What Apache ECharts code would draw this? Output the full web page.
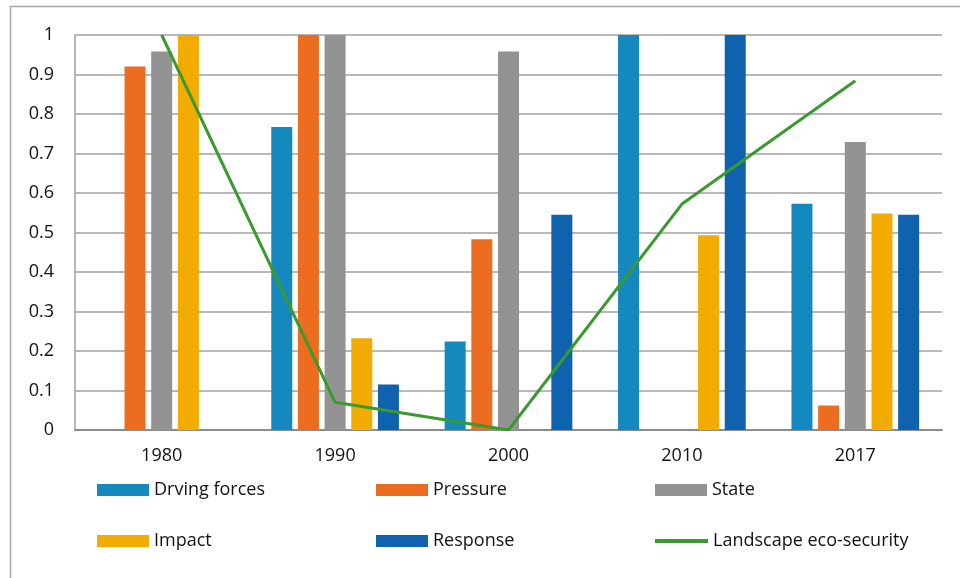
<!DOCTYPE html>
<html>
<head>
<meta charset="utf-8">
<script src="https://cdn.jsdelivr.net/npm/echarts@6/dist/echarts.min.js"></script>
<style>
  html, body { margin: 0; padding: 0; background: #ffffff; }
  #chart { width: 960px; height: 578px; }
</style>
</head>
<body>
<div id="chart"></div>
<script>
// DPSIR indicator scores by year, with the overall landscape eco-security index
const years = ['1980', '1990', '2000', '2010', '2017'];
const drivingForces = [0, 0.767, 0.224, 1, 0.573];
const pressure = [0.92, 1, 0.483, 0, 0.062];
const stateValues = [0.958, 1, 0.958, 0, 0.729];
const impact = [1, 0.232, 0, 0.493, 0.548];
const response = [0, 0.115, 0.545, 1, 0.545];
const ecoSecurity = [1, 0.07, 0, 0.572, 0.884];
const yTicks = [0, 0.1, 0.2, 0.3, 0.4, 0.5, 0.6, 0.7, 0.8, 0.9, 1];

const FONT = 'Open Sans';
const barSeries = [
  { name: 'Drving forces', data: drivingForces, color: '#1589be' },
  { name: 'Pressure', data: pressure, color: '#ec6d1f' },
  { name: 'State', data: stateValues, color: '#939393' },
  { name: 'Impact', data: impact, color: '#f2ab00' },
  { name: 'Response', data: response, color: '#0e62ae' }
];

const series = barSeries.map(s => ({
  name: s.name,
  type: 'bar',
  data: s.data,
  barWidth: 21,
  barGap: '27%',
  itemStyle: { color: s.color },
  emphasis: { disabled: true }
}));
series.push({
  name: 'Landscape eco-security',
  type: 'line',
  data: ecoSecurity,
  symbol: 'none',
  lineStyle: { color: '#3a9a2f', width: 3 },
  itemStyle: { color: '#3a9a2f' },
  emphasis: { disabled: true },
  z: 5
});

// legend items placed on a 3-column grid, two rows
const legendCols = [97, 376, 655];
const legendRows = [481, 532];
const legendNames = ['Drving forces', 'Pressure', 'State', 'Impact', 'Response', 'Landscape eco-security'];
const legends = legendNames.map((name, i) => {
  const isLine = name === 'Landscape eco-security';
  return {
    data: [name],
    left: legendCols[i % 3],
    top: legendRows[Math.floor(i / 3)],
    padding: 0,
    icon: 'rect',
    itemWidth: isLine ? 53 : 52,
    itemHeight: isLine ? 4 : 12,
    itemGap: 5,
    selectedMode: false,
    textStyle: { fontFamily: FONT, fontSize: 18, color: '#111111', padding: [0, 0, 0, 0] }
  };
});

const chart = echarts.init(document.getElementById('chart'), null, { renderer: 'canvas' });
chart.setOption({
  animation: false,
  backgroundColor: '#ffffff',
  graphic: [{
    type: 'rect',
    shape: { x: 10.5, y: 6.5, width: 1000, height: 700 },
    style: { fill: 'none', stroke: '#a6a6a6', lineWidth: 1.5 },
    silent: true
  }],
  legend: legends,
  grid: { left: 75, right: 18, top: 35, bottom: 148, containLabel: false },
  xAxis: {
    type: 'category',
    data: years,
    axisLine: { show: true, lineStyle: { color: '#8c8c8c', width: 2 } },
    axisTick: { show: false },
    axisLabel: { margin: 17, fontFamily: FONT, fontSize: 18, color: '#111111' },
    splitLine: { show: false }
  },
  yAxis: {
    type: 'value',
    min: 0,
    max: 1,
    interval: 0.1,
    axisLine: { show: true, lineStyle: { color: '#a0a0a0', width: 1.5 } },
    axisTick: { show: false },
    axisLabel: {
      margin: 21,
      fontFamily: FONT,
      fontSize: 18,
      color: '#111111',
      formatter: v => {
        const t = yTicks.find(x => Math.abs(x - v) < 1e-9);
        return String(t !== undefined ? t : v);
      }
    },
    splitLine: { show: true, lineStyle: { color: '#a0a0a0', width: 1.5 } }
  },
  series: series
});
</script>
</body>
</html>
